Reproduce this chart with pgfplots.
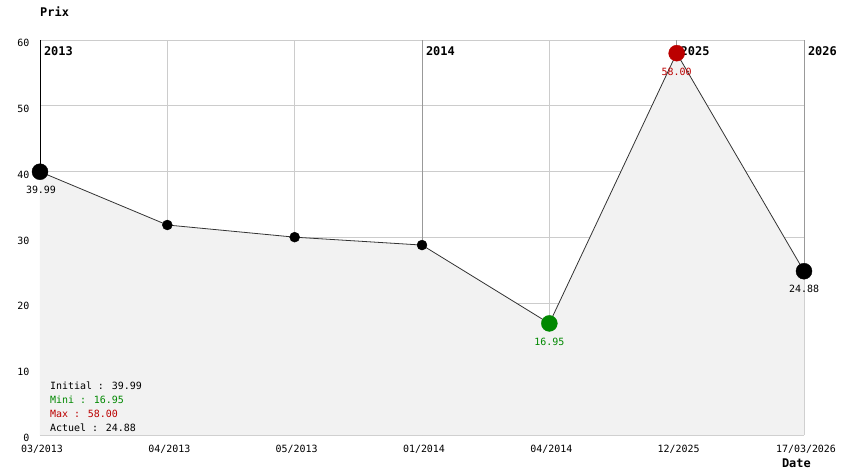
\documentclass[border=0pt]{standalone}
\usepackage{fontspec}
\setmainfont{DejaVu Sans Mono}
\usepackage{pgfplots}
\pgfplotsset{compat=1.18}
\definecolor{gridc}{HTML}{CCCCCC}
\definecolor{yearc}{HTML}{999999}
\definecolor{areac}{HTML}{F2F2F2}
\definecolor{linec}{HTML}{333333}
\definecolor{minc}{HTML}{008800}
\definecolor{maxc}{HTML}{BB0000}

\begin{document}
\begin{tikzpicture}[font=\fontsize{10}{11}\selectfont]
\useasboundingbox (-40bp,-39bp) rectangle (804bp,435bp);
\begin{axis}[
  scale only axis, width=764bp, height=395bp,
  xmin=0, xmax=6, ymin=0, ymax=60,
  axis line style={draw=none},
  xtick={0,...,6},
  xticklabels={03/2013,04/2013,05/2013,01/2014,04/2014,12/2025,17/03/2026},
  ytick={0,10,...,60},
  xmajorgrids, ymajorgrids,
  grid style={gridc, line width=0.8pt},
  major tick length=0pt,
  tick label style={font=\fontsize{10}{11}\selectfont, black},
  yticklabel style={xshift=-7bp, yshift=-3bp},
  /pgf/number format/assume math mode=true,
  xticklabel style={yshift=-7bp, xshift=2bp},
  clip=false,
]
% year separators and left frame, drawn before the area
\addplot[black, line width=1pt] coordinates {(0,39.99)(0,60)};
\addplot[yearc, line width=0.8pt] coordinates {(3,0)(3,60)};
\addplot[yearc, line width=0.8pt] coordinates {(5,0)(5,60)};
\addplot[yearc, line width=0.8pt] coordinates {(6,24.88)(6,60)};

% area under the price line
\addplot[fill=areac, draw=none] coordinates {
  (0,39.99)(1,31.9)(2,30.05)(3,28.85)(4,16.95)(5,58.00)(6,24.88)} \closedcycle;
\addplot[linec, line width=0.8pt] coordinates {
  (0,39.99)(1,31.9)(2,30.05)(3,28.85)(4,16.95)(5,58.00)(6,24.88)};

% year labels
\node[anchor=west, font=\fontsize{12}{14}\selectfont\bfseries, xshift=0.5bp, yshift=-11bp] at (axis cs:0,60) {2013};
\node[anchor=west, font=\fontsize{12}{14}\selectfont\bfseries, xshift=0.5bp, yshift=-11bp] at (axis cs:3,60) {2014};
\node[anchor=west, font=\fontsize{12}{14}\selectfont\bfseries, xshift=0.5bp, yshift=-11bp] at (axis cs:5,60) {2025};
\node[anchor=west, font=\fontsize{12}{14}\selectfont\bfseries, xshift=0.5bp, yshift=-11bp] at (axis cs:6,60) {2026};

% markers
\addplot[only marks, mark=*, mark size=5bp, black] coordinates {(1,31.9)(2,30.05)(3,28.85)};
\addplot[only marks, mark=*, mark size=8bp, black] coordinates {(0,39.99)(6,24.88)};
\addplot[only marks, mark=*, mark size=8bp, minc] coordinates {(4,16.95)};
\addplot[only marks, mark=*, mark size=8bp, maxc] coordinates {(5,58.00)};

% value labels
\node[xshift=1bp, yshift=-18bp] at (axis cs:0,39.99) {39.99};
\node[minc, yshift=-18bp] at (axis cs:4,16.95) {16.95};
\node[maxc, yshift=-19bp] at (axis cs:5,58.00) {58.00};
\node[yshift=-18bp] at (axis cs:6,24.88) {24.88};

% summary
\node[anchor=west, xshift=6.5bp, yshift=49bp] at (axis cs:0,0) {Initial : 39.99};
\node[anchor=west, minc, xshift=6.5bp, yshift=35bp] at (axis cs:0,0) {Mini : 16.95};
\node[anchor=west, maxc, xshift=6.5bp, yshift=21bp] at (axis cs:0,0) {Max : 58.00};
\node[anchor=west, xshift=6.5bp, yshift=7bp] at (axis cs:0,0) {Actuel : 24.88};

% axis titles
\node[anchor=west, font=\fontsize{12}{14}\selectfont\bfseries, inner sep=0pt, yshift=28bp] at (rel axis cs:0,1) {Prix};
\node[anchor=east, font=\fontsize{12}{14}\selectfont\bfseries, inner sep=0pt, xshift=7bp, yshift=-28bp] at (rel axis cs:1,0) {Date};
\end{axis}
\end{tikzpicture}
\end{document}
